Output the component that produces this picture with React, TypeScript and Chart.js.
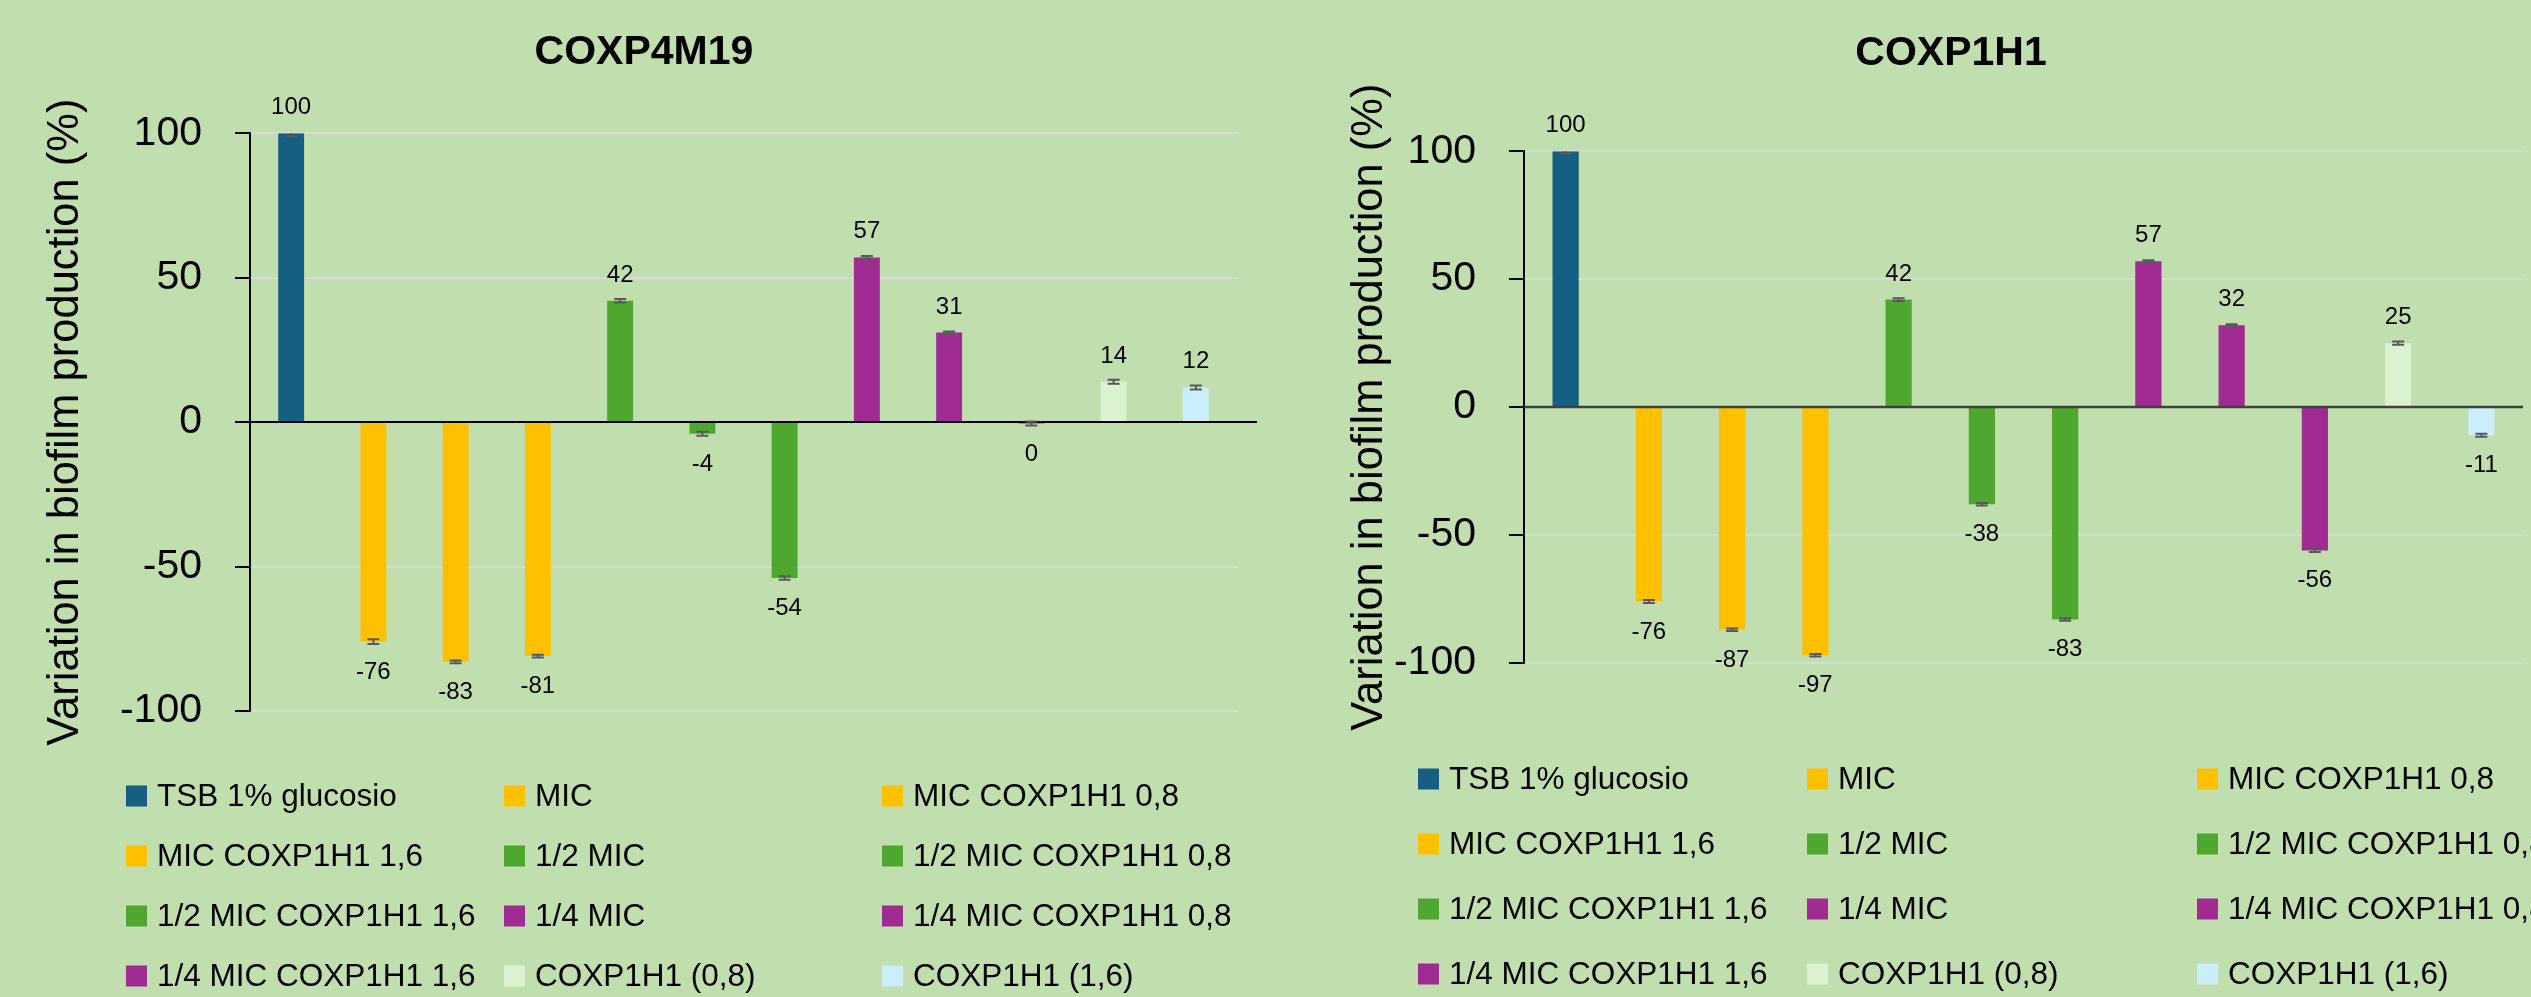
import React, { useEffect, useRef } from "react";
import { Chart, registerables } from "chart.js";

Chart.register(...registerables);

// ---------- data ----------
const categories = [
  "TSB 1% glucosio",
  "MIC",
  "MIC COXP1H1 0,8",
  "MIC COXP1H1 1,6",
  "1/2 MIC",
  "1/2 MIC COXP1H1 0,8",
  "1/2 MIC COXP1H1 1,6",
  "1/4 MIC",
  "1/4 MIC COXP1H1 0,8",
  "1/4 MIC COXP1H1 1,6",
  "COXP1H1 (0,8)",
  "COXP1H1 (1,6)",
];

const barColors = [
  "#156082",
  "#FFC000",
  "#FFC000",
  "#FFC000",
  "#4EA72E",
  "#4EA72E",
  "#4EA72E",
  "#A02B93",
  "#A02B93",
  "#A02B93",
  "#DAF2D0",
  "#CAEEFB",
];

const coxp4m19Values = [100, -76, -83, -81, 42, -4, -54, 57, 31, -0.5, 14, 12];
const coxp4m19Errors = [1.1, 0.8, 0.5, 0.5, 0.6, 0.7, 0.6, 0.5, 0.4, 0.7, 0.7, 0.7];

const coxp1h1Values = [100, -76, -87, -97, 42, -38, -83, 57, 32, -56, 25, -11];
const coxp1h1Errors = [0.9, 0.6, 0.5, 0.5, 0.5, 0.5, 0.5, 0.4, 0.4, 0.6, 0.6, 0.6];

const yMin = -100;
const yMax = 100;
const yStep = 50;

const yAxisTitle = "Variation in biofilm production (%)";

// ---------- styling ----------
const BG = "#C1DEAE";
const FONT = "'Liberation Sans', Arial, Helvetica, sans-serif";

type Panel = {
  title: string;
  values: number[];
  errors: number[];
  width: number;
  left: number;
  axisWidth: number;
  padRight: number;
  padBottom: number;
  titleTop: number;
  titleBottom: number;
  axisTitlePad: number;
  zeroColor: string;
  zeroWidth: number;
  zeroExtend: number;
  legendCols: number[];
  legendRows: number[];
};

const panels: Panel[] = [
  {
    title: "COXP4M19",
    values: coxp4m19Values,
    errors: coxp4m19Errors,
    width: 1288,
    left: 0,
    axisWidth: 250,
    padRight: 51,
    padBottom: 286,
    titleTop: 28,
    titleBottom: 56,
    axisTitlePad: 40,
    zeroColor: "#000000",
    zeroWidth: 2,
    zeroExtend: 20,
    legendCols: [126, 504, 882],
    legendRows: [796, 856, 916, 976],
  },
  {
    title: "COXP1H1",
    values: coxp1h1Values,
    errors: coxp1h1Errors,
    width: 1326,
    left: 1288,
    axisWidth: 236,
    padRight: 91,
    padBottom: 334,
    titleTop: 29,
    titleBottom: 73,
    axisTitlePad: 56,
    zeroColor: "#404040",
    zeroWidth: 2.5,
    zeroExtend: 0,
    legendCols: [130, 519, 909],
    legendRows: [779, 844, 909, 974],
  },
];

function makeExtras(p: Panel) {
  return {
    id: "extras",
    afterDatasetsDraw(chart: any) {
      const ctx = chart.ctx as CanvasRenderingContext2D;
      const y = chart.scales.y;
      const area = chart.chartArea;
      const meta = chart.getDatasetMeta(0);
      const y0 = y.getPixelForValue(0);

      // zero (category) axis line on top of bars
      ctx.save();
      ctx.strokeStyle = p.zeroColor;
      ctx.lineWidth = p.zeroWidth;
      ctx.beginPath();
      ctx.moveTo(area.left, y0);
      ctx.lineTo(area.right + p.zeroExtend, y0);
      ctx.stroke();
      ctx.restore();

      // error bars
      ctx.save();
      ctx.beginPath();
      ctx.rect(area.left, area.top, area.right - area.left, area.bottom - area.top);
      ctx.clip();
      ctx.strokeStyle = "#595959";
      ctx.lineWidth = 2;
      meta.data.forEach((el: any, i: number) => {
        const v = p.values[i];
        const e = p.errors[i];
        const hi = y.getPixelForValue(v + e);
        const lo = y.getPixelForValue(v - e);
        ctx.beginPath();
        ctx.moveTo(el.x, hi);
        ctx.lineTo(el.x, lo);
        ctx.moveTo(el.x - 6, hi);
        ctx.lineTo(el.x + 6, hi);
        ctx.moveTo(el.x - 6, lo);
        ctx.lineTo(el.x + 6, lo);
        ctx.stroke();
      });
      ctx.restore();

      // data labels
      ctx.save();
      ctx.font = `24px ${FONT}`;
      ctx.fillStyle = "#000000";
      ctx.textAlign = "center";
      ctx.textBaseline = "alphabetic";
      meta.data.forEach((el: any, i: number) => {
        const v = p.values[i];
        const txt = String(Math.round(v));
        const ty = v >= 0 ? el.y - 19 : el.y + 37;
        ctx.fillText(txt, el.x, ty);
      });
      ctx.restore();
    },
    afterDraw(chart: any) {
      const ctx = chart.ctx as CanvasRenderingContext2D;
      const box = 21;
      ctx.save();
      ctx.font = `31.5px ${FONT}`;
      ctx.textAlign = "left";
      ctx.textBaseline = "alphabetic";
      categories.forEach((label, i) => {
        const col = i % 3;
        const row = Math.floor(i / 3);
        const x = p.legendCols[col];
        const cy = p.legendRows[row];
        ctx.fillStyle = barColors[i];
        ctx.fillRect(x, cy - box / 2, box, box);
        ctx.fillStyle = "#000000";
        ctx.fillText(label, x + 31, cy + 10);
      });
      ctx.restore();
    },
  };
}

function ChartPanel({ p }: { p: Panel }) {
  const ref = useRef<HTMLCanvasElement | null>(null);
  useEffect(() => {
    if (!ref.current) return;
    const chart = new Chart(ref.current, {
      type: "bar",
      data: {
        labels: categories,
        datasets: [
          {
            data: p.values,
            backgroundColor: barColors,
            borderWidth: 0,
            categoryPercentage: 1,
            barPercentage: 0.315,
          },
        ],
      },
      options: {
        responsive: false,
        animation: false,
        devicePixelRatio: 1,
        layout: { padding: { left: 0, right: 0, top: 0, bottom: p.padBottom } },
        plugins: {
          legend: { display: false },
          tooltip: { enabled: false },
          title: {
            display: true,
            text: p.title,
            color: "#000000",
            font: { family: FONT, size: 41, weight: "bold", lineHeight: 1.2 },
            padding: { top: p.titleTop, bottom: p.titleBottom },
          },
        },
        scales: {
          x: { display: false },
          y: {
            min: yMin,
            max: yMax,
            ticks: {
              stepSize: yStep,
              color: "#000000",
              font: { family: FONT, size: 41 },
              padding: 33,
            },
            grid: {
              color: "#D9D9D9",
              lineWidth: 2,
              tickColor: "#000000",
              tickLength: 15,
              tickWidth: 2,
            },
            border: { display: true, color: "#000000", width: 2 },
            title: {
              display: true,
              text: yAxisTitle,
              color: "#000000",
              font: { family: FONT, size: 43.5, lineHeight: 1.2 },
              padding: { top: p.axisTitlePad, bottom: 0 },
            },
            afterFit: (s: any) => {
              s.width = p.axisWidth;
            },
          },
          // invisible spacer on the right so the plot ends where the reference does
          spacer: {
            type: "linear",
            position: "right",
            display: true,
            grid: { display: false, drawOnChartArea: false, drawTicks: false },
            ticks: { display: false },
            border: { display: false },
            afterFit: (s: any) => {
              s.width = p.padRight;
            },
          },
        },
      } as any,
      plugins: [makeExtras(p)],
    });
    return () => chart.destroy();
  }, [p]);
  return (
    <canvas
      ref={ref}
      width={p.width}
      height={997}
      style={{ position: "absolute", left: p.left, top: 0, width: p.width, height: 997 }}
    />
  );
}

export default function App() {
  return (
    <div
      style={{
        position: "fixed",
        left: 0,
        top: 0,
        width: 2531,
        height: 997,
        overflow: "hidden",
        background: BG,
      }}
    >
      {panels.map((p) => (
        <ChartPanel key={p.title} p={p} />
      ))}
    </div>
  );
}
